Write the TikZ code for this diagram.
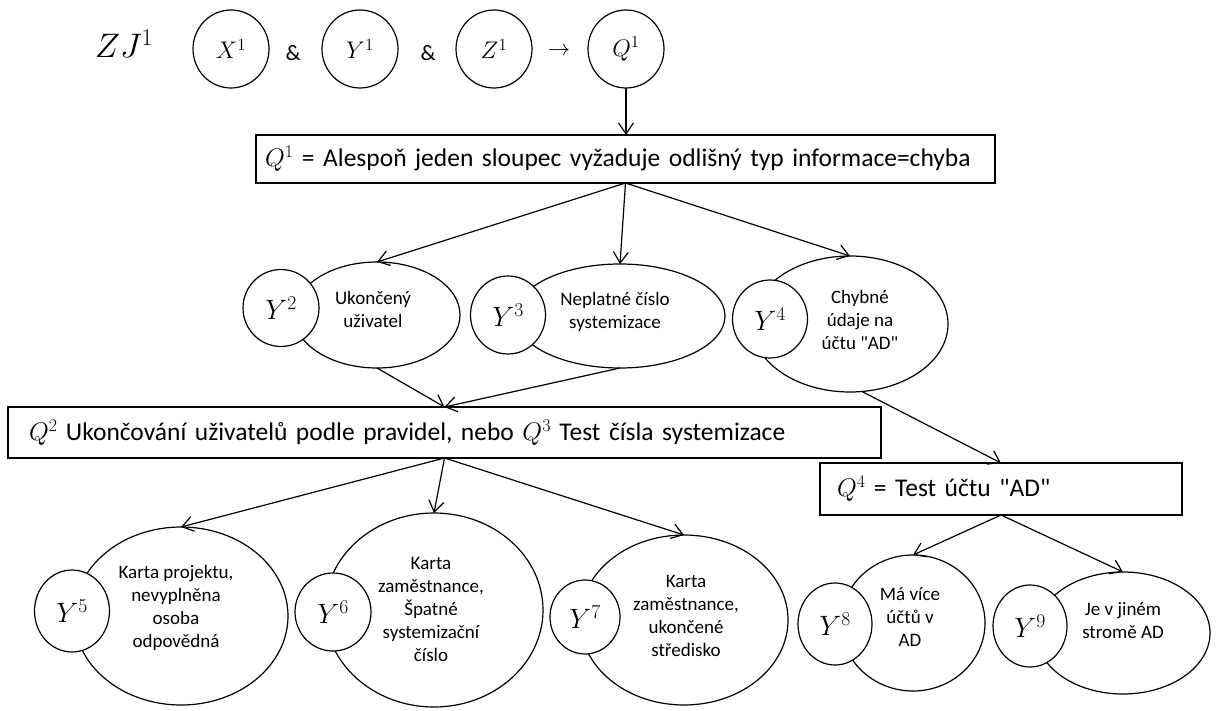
\documentclass[tikz,border=0pt]{standalone}
\usepackage{fix-cm}
\usepackage{fontspec}
\setmainfont{Carlito}
\usetikzlibrary{shapes.geometric,arrows.meta}
\begin{document}
\begin{tikzpicture}[x=1pt,y=-1pt,
  line width=1.2pt,
  every node/.style={inner sep=0pt, outer sep=0pt},
  oval/.style={draw, ellipse, fill=white},
  ring/.style={draw, ellipse, fill=white, font=\fontsize{28}{30}\selectfont},
  topring/.style={draw, ellipse, fill=white, minimum width=76, minimum height=78,
    font=\fontsize{24}{26}\selectfont},
  box/.style={draw, rectangle, fill=white, align=left,
    font=\fontsize{25.5}{30}\selectfont},
  note/.style={align=center, font=\fontsize{19}{23}\selectfont},
  sym/.style={font=\fontsize{22}{24}\selectfont},
  arr/.style={-{Straight Barb[length=11pt,width=15pt]}},
]
\useasboundingbox (0,0) rectangle (1220,711);

% top row: ZJ^1 = X^1 & Y^1 & Z^1 -> Q^1
\node[font=\fontsize{34}{40}\selectfont] (zj) at (124,44) {$ZJ^1$};
\node[topring] (x1) at (231,49) {$X^1$};
\node[sym] (amp1) at (293,53) {\&};
\node[topring] (y1) at (360,49) {$Y^1$};
\node[sym] (amp2) at (428,53) {\&};
\node[topring] (z1) at (494,49) {$Z^1$};
\node[sym] (impl) at (559,51) {$\to$};
\node[topring] (q1) at (626,49) {$Q^1$};

% first decision box
\node[box, minimum width=739, minimum height=48, text width=721, inner xsep=9]
  (b1) at (625.5,159) {$Q^1$ = Alespoň jeden sloupec vyžaduje odlišný typ informace=chyba};

% second level: Y^2, Y^3, Y^4
\node[oval, minimum width=166, minimum height=106] (e2) at (377,315) {};
\node[note] (t2) at (373,309) {Ukončený\\uživatel};
\node[ring, minimum width=76, minimum height=77] (c2) at (281,308) {$Y^2$};

\node[oval, minimum width=210, minimum height=104] (e3) at (620,316) {};
\node[note] (t3) at (615,312) {Neplatné číslo\\systemizace};
\node[ring, minimum width=75, minimum height=78] (c3) at (508,315) {$Y^3$};

\node[oval, minimum width=196, minimum height=136] (e4) at (850,324) {};
\node[note] (t4) at (860,320) {Chybné\\údaje na\\účtu \textquotedbl AD\textquotedbl};
\node[ring, minimum width=75, minimum height=78] (c4) at (770,319) {$Y^4$};

% second and third decision boxes
\node[box, minimum width=873, minimum height=51, text width=831, inner xsep=21]
  (b2) at (444.5,432.5) {$Q^2$ Ukončování uživatelů podle pravidel, nebo $Q^3$ Test čísla systemizace};
\node[box, minimum width=362, minimum height=52, text width=328, inner xsep=17]
  (b4) at (1001,489) {$Q^4$ = Test účtu \textquotedbl AD\textquotedbl};

% bottom level: Y^5 ... Y^9
\node[oval, minimum width=214, minimum height=178] (e5) at (181,616) {};
\node[note] (t5) at (176,608) {Karta projektu,\\nevyplněna\\osoba\\odpovědná};
\node[ring, minimum width=75, minimum height=82] (c5) at (72,611) {$Y^5$};

\node[oval, minimum width=218, minimum height=194] (e6) at (434,610) {};
\node[note] (t6) at (431,609) {Karta\\zaměstnance,\\Špatné\\systemizační\\číslo};
\node[ring, minimum width=76, minimum height=78] (c6) at (333,612) {$Y^6$};

\node[oval, minimum width=208, minimum height=170] (e7) at (684,620) {};
\node[note] (t7) at (686,616) {Karta\\zaměstnance,\\ukončené\\středisko};
\node[ring, minimum width=70, minimum height=74] (c7) at (585,617) {$Y^7$};

\node[oval, minimum width=144, minimum height=136] (e8) at (913,623) {};
\node[note] (t8) at (910,617) {Má více\\účtů v\\AD};
\node[ring, minimum width=74, minimum height=82] (c8) at (835,624) {$Y^8$};

\node[oval, minimum width=174, minimum height=122] (e9) at (1123,633) {};
\node[note] (t9) at (1123,621) {Je v jiném\\stromě AD};
\node[ring, minimum width=74, minimum height=82] (c9) at (1030,626) {$Y^9$};

% connectors
\draw[arr] (q1.south) -- (q1.south |- b1.north);
\draw[arr] (b1.south) -- (e2.north);
\draw[arr] (b1.south) -- (e3.north);
\draw[arr] (b1.south) -- (e4.north);
\draw[arr] (e2.south) -- (b2.north);
\draw[arr] (e3.south) -- (b2.north);
\draw[arr] (e4.-80) -- (b4.north);
\draw[arr] (b2.south) -- (e5.north);
\draw[arr] (b2.south) -- (e6.north);
\draw[arr] (b2.south) -- (e7.north);
\draw[arr] (b4.south) -- (e8.north);
\draw[arr] (b4.south) -- (e9.north);
\end{tikzpicture}
\end{document}
